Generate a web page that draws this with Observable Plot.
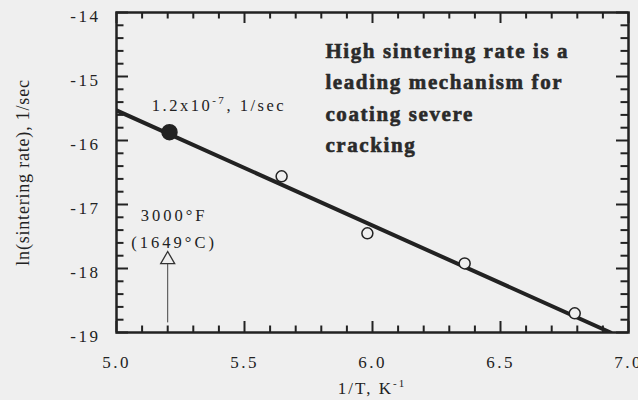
<!DOCTYPE html>
<html>
<head>
<meta charset="utf-8">
<script src="https://cdn.jsdelivr.net/npm/d3@7"></script>
<script src="https://cdn.jsdelivr.net/npm/@observablehq/plot@0.6"></script>
<style>
  html, body { margin: 0; padding: 0; background: #efefef; }
  svg { display: block; }
</style>
</head>
<body>
<div id="chart"></div>
<script>
// ---- data ----
const openX = [5.645, 5.98, 6.36, 6.79];
const openY = [-16.56, -17.45, -17.92, -18.70];
const filledX = [5.207];
const filledY = [-15.87];
const fitX = [5.0, 6.93];
const fitY = [-15.53, -19.0];
const xMajor = [5.0, 5.5, 6.0, 6.5, 7.0];
const yMajor = [-19, -18, -17, -16, -15, -14];
const xMinor = [5.1, 5.2, 5.3, 5.4, 5.6, 5.7, 5.8, 5.9, 6.1, 6.2, 6.3, 6.4, 6.6, 6.7, 6.8, 6.9];
const yMinor = [-18.8, -18.6, -18.4, -18.2, -17.8, -17.6, -17.4, -17.2, -16.8, -16.6, -16.4, -16.2,
                -15.8, -15.6, -15.4, -15.2, -14.8, -14.6, -14.4, -14.2];
const arrowX = 5.2, arrowY1 = -18.85, arrowY2 = -17.72;
const noteText = "High sintering rate is a\nleading mechanism for\ncoating severe\ncracking";
const tempText = "3000°F\n(1649°C)";
const yLabel = "ln(sintering rate), 1/sec";

const xDom = [5.0, 7.0], yDom = [-19, -14];
const ink = "#222";
const bg = "#efefef";
const font = "'Liberation Serif', 'Times New Roman', serif";

const fit = fitX.map((x, i) => ({x, y: fitY[i]}));
const open = openX.map((x, i) => ({x, y: openY[i]}));
const filled = filledX.map((x, i) => ({x, y: filledY[i]}));

// tick lengths in data units (px / px-per-unit)
const pxX = 512 / 2, pxY = 320 / 5;
const xt = (vals, len) => vals.flatMap(v => [
  {x: v, y1: yDom[0], y2: yDom[0] + len / pxY},
  {x: v, y1: yDom[1], y2: yDom[1] - len / pxY}
]);
const yt = (vals, len) => vals.flatMap(v => [
  {y: v, x1: xDom[0], x2: xDom[0] + len / pxX},
  {y: v, x1: xDom[1], x2: xDom[1] - len / pxX}
]);

const plot = Plot.plot({
  width: 638,
  height: 400,
  marginLeft: 116,
  marginRight: 10,
  marginTop: 12,
  marginBottom: 68,
  style: {background: bg, fontFamily: font, color: ink},
  x: {domain: xDom},
  y: {domain: yDom},
  marks: [
    Plot.ruleX(xt(xMajor, 11), {x: "x", y1: "y1", y2: "y2", stroke: ink, strokeWidth: 2}),
    Plot.ruleX(xt(xMinor, 6.5), {x: "x", y1: "y1", y2: "y2", stroke: ink, strokeWidth: 2}),
    Plot.ruleY(yt(yMajor, 12), {y: "y", x1: "x1", x2: "x2", stroke: ink, strokeWidth: 2}),
    Plot.ruleY(yt(yMinor, 7.5), {y: "y", x1: "x1", x2: "x2", stroke: ink, strokeWidth: 2}),
    Plot.frame({stroke: ink, strokeWidth: 2.5}),
    Plot.axisX({ticks: xMajor, tickSize: 0, tickPadding: 23, tickFormat: d => d.toFixed(1),
      fontSize: 17, label: null}),
    Plot.axisY({ticks: yMajor, tickSize: 0, tickPadding: 16, dy: 4, tickFormat: d => String(d),
      fontSize: 17, label: null}),
    Plot.line(fit, {x: "x", y: "y", stroke: ink, strokeWidth: 4, clip: true}),
    Plot.dot(open, {x: "x", y: "y", r: 5.5, fill: bg, stroke: ink, strokeWidth: 1.5}),
    Plot.dot(filled, {x: "x", y: "y", r: 7.5, fill: ink, stroke: ink}),
    Plot.ruleX([arrowX], {y1: arrowY1, y2: arrowY2 - 0.2, stroke: "#444", strokeWidth: 1}),
    Plot.dot([arrowX], {x: d => d, y: arrowY2 - 9 / pxY, symbol: "triangle", r: 5.2,
      fill: bg, stroke: "#333", strokeWidth: 1.3}),
    Plot.text([tempText], {x: 5.225, y: -16.97, text: d => d, lineAnchor: "top", lineHeight: 1.6,
      fontSize: 16.5, fill: ink, textAnchor: "middle"}),
    Plot.text([noteText], {x: 5.816, y: -14.36, text: d => d, lineAnchor: "top", lineHeight: 1.5,
      fontSize: 21, fontWeight: "bold", fill: "#2a2a2a", stroke: "#2a2a2a", strokeWidth: 0.6,
      textAnchor: "start"}),
    Plot.text([yLabel], {frameAnchor: "left", rotate: -90, dx: -93, text: d => d,
      fontSize: 18, fill: ink, textAnchor: "middle"})
  ]
});

const svg = d3.select(plot);
svg.selectAll('[aria-label="x-axis tick label"] text, [aria-label="y-axis tick label"] text')
  .attr("letter-spacing", "2.5px");
svg.selectAll('[aria-label="text"] text').each(function() {
  const s = this.textContent;
  if (s.includes("3000")) d3.select(this).attr("letter-spacing", "3px");
  if (s.includes("High")) d3.select(this).attr("letter-spacing", "1.6px");
  if (s.includes("sintering rate)")) d3.select(this).attr("letter-spacing", "0.8px");
});

// texts with superscripts
const sx = plot.scale("x"), sy = plot.scale("y");
const t1 = svg.append("text")
  .attr("x", sx.apply(5.14)).attr("y", sy.apply(-15.55))
  .attr("text-anchor", "start")
  .attr("font-family", font).attr("font-size", 16.5).attr("fill", ink).attr("letter-spacing", "2.5px");
t1.append("tspan").text("1.2x10");
t1.append("tspan").attr("dy", -7).attr("font-size", 11).text("-7");
t1.append("tspan").attr("dy", 7).text(", 1/sec");

const t2 = svg.append("text")
  .attr("x", sx.apply(6.0)).attr("y", 394)
  .attr("text-anchor", "middle")
  .attr("font-family", font).attr("font-size", 17).attr("fill", ink).attr("letter-spacing", "2px");
t2.append("tspan").text("1/T, K");
t2.append("tspan").attr("dy", -7).attr("font-size", 11).text("-1");

document.getElementById("chart").appendChild(plot);
</script>
</body>
</html>
